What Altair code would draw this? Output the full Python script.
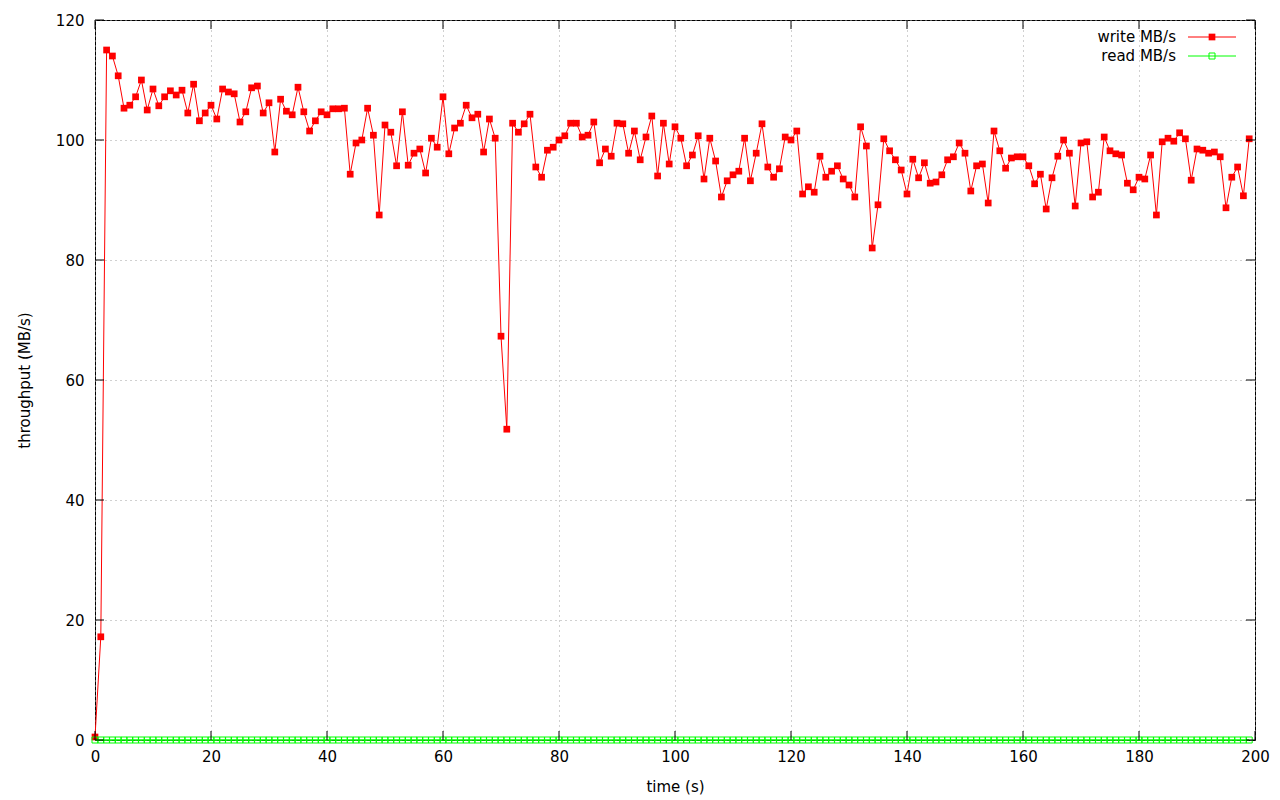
import altair as alt
import pandas as pd

time_s = list(range(200))

write_mbs = [
    0.5, 17.2, 115.0, 114.0, 110.7, 105.3, 105.8, 107.2, 110.0, 105.0,
    108.5, 105.7, 107.2, 108.2, 107.5, 108.3, 104.5, 109.3, 103.2, 104.5,
    105.8, 103.5, 108.5, 108.0, 107.7, 103.0, 104.7, 108.7, 109.0, 104.5,
    106.2, 98.0, 106.8, 104.8, 104.2, 108.8, 104.7, 101.5, 103.2, 104.7,
    104.2, 105.2, 105.2, 105.3, 94.3, 99.5, 100.0, 105.3, 100.8, 87.5,
    102.5, 101.3, 95.7, 104.7, 95.8, 97.8, 98.5, 94.5, 100.3, 98.8,
    107.2, 97.7, 102.0, 102.8, 105.8, 103.7, 104.3, 98.0, 103.5, 100.3,
    67.3, 51.8, 102.8, 101.3, 102.7, 104.3, 95.5, 93.8, 98.3, 98.8,
    100.0, 100.7, 102.8, 102.8, 100.5, 100.8, 103.0, 96.2, 98.5, 97.3,
    102.8, 102.7, 97.8, 101.5, 96.7, 100.5, 104.0, 94.0, 102.8, 96.0,
    102.2, 100.3, 95.7, 97.5, 100.7, 93.5, 100.3, 96.5, 90.5, 93.2,
    94.2, 94.8, 100.3, 93.2, 97.8, 102.7, 95.5, 93.8, 95.2, 100.5,
    100.0, 101.5, 91.0, 92.2, 91.3, 97.3, 93.8, 94.8, 95.7, 93.5,
    92.5, 90.5, 102.2, 99.0, 82.0, 89.2, 100.2, 98.2, 96.7, 95.0,
    91.0, 96.8, 93.7, 96.2, 92.8, 93.0, 94.2, 96.7, 97.2, 99.5,
    97.8, 91.5, 95.7, 96.0, 89.5, 101.5, 98.2, 95.3, 97.0, 97.2,
    97.2, 95.7, 92.7, 94.3, 88.5, 93.7, 97.3, 100.0, 97.8, 89.0,
    99.5, 99.7, 90.5, 91.3, 100.5, 98.2, 97.7, 97.5, 92.8, 91.7,
    93.8, 93.5, 97.5, 87.5, 99.7, 100.3, 99.8, 101.2, 100.2, 93.3,
    98.5, 98.3, 97.8, 98.0, 97.2, 88.7, 93.8, 95.5, 90.7, 100.2,
]

read_mbs = [0.0] * 200

x_ticks = [0, 20, 40, 60, 80, 100, 120, 140, 160, 180, 200]
y_ticks = [0, 20, 40, 60, 80, 100, 120]

legend_labels = ["write MB/s", "read MB/s"]
legend_colors = ["#ff0000", "#00ff00"]

W, H = 1160, 720
FONT = "DejaVu Sans"
FS = 15

df = pd.DataFrame({"t": time_s, "write": write_mbs, "read": read_mbs})

xscale = alt.Scale(domain=[0, 200], nice=False, zero=False)
yscale = alt.Scale(domain=[0, 120], nice=False)

x_axis = alt.Axis(values=x_ticks, title="time (s)", grid=True, gridColor="#a0a0a0",
                  gridDash=[1, 4], gridWidth=1, ticks=False, domain=False, labelFlush=False,
                  labelPadding=9, titlePadding=15, labelFontSize=FS, titleFontSize=FS,
                  labelFont=FONT, titleFont=FONT, titleFontWeight="normal",
                  labelColor="#000000", titleColor="#000000")
y_axis = alt.Axis(values=y_ticks, title="throughput (MB/s)", grid=True, gridColor="#a0a0a0",
                  gridDash=[1, 4], gridWidth=1, ticks=False, domain=False, labelFlush=False,
                  labelPadding=11, titlePadding=23, labelFontSize=FS, titleFontSize=FS,
                  labelFont=FONT, titleFont=FONT, titleFontWeight="normal",
                  labelColor="#000000", titleColor="#000000")

base = alt.Chart(df)

write_line = base.mark_line(color="#ff0000", strokeWidth=1).encode(
    x=alt.X("t:Q", scale=xscale, axis=x_axis),
    y=alt.Y("write:Q", scale=yscale, axis=y_axis),
)
write_pts = base.mark_point(shape="square", filled=True, color="#ff0000", size=45, opacity=1).encode(
    x=alt.X("t:Q", scale=xscale),
    y=alt.Y("write:Q", scale=yscale),
)
read_line = base.mark_line(color="#00ff00", strokeWidth=1.5).encode(
    x=alt.X("t:Q", scale=xscale),
    y=alt.Y("read:Q", scale=yscale),
)
read_pts = base.mark_point(shape="square", filled=False, color="#00ff00", size=36,
                           strokeWidth=1, opacity=1).encode(
    x=alt.X("t:Q", scale=xscale),
    y=alt.Y("read:Q", scale=yscale),
)

xt = pd.DataFrame({"v": x_ticks})
yt = pd.DataFrame({"v": y_ticks})
xtick_bottom = alt.Chart(xt).mark_rule(color="black", strokeWidth=1).encode(
    x=alt.X("v:Q", scale=xscale), y=alt.value(H), y2=alt.value(H - 9))
xtick_top = alt.Chart(xt).mark_rule(color="black", strokeWidth=1).encode(
    x=alt.X("v:Q", scale=xscale), y=alt.value(0), y2=alt.value(9))
ytick_left = alt.Chart(yt).mark_rule(color="black", strokeWidth=1).encode(
    y=alt.Y("v:Q", scale=yscale), x=alt.value(0), x2=alt.value(9))
ytick_right = alt.Chart(yt).mark_rule(color="black", strokeWidth=1).encode(
    y=alt.Y("v:Q", scale=yscale), x=alt.value(W), x2=alt.value(W - 9))

# manual legend (gnuplot style: label left, sample right)
leg1 = pd.DataFrame({"label": [legend_labels[0]]})
leg2 = pd.DataFrame({"label": [legend_labels[1]]})
ly1, ly2 = 17, 36
lx_text, lx0, lx1, lxp = 1081, 1093, 1141, 1117

legend_layers = []
for ldf, ly, col, filled in [(leg1, ly1, legend_colors[0], True), (leg2, ly2, legend_colors[1], False)]:
    legend_layers.append(alt.Chart(ldf).mark_text(align="right", baseline="middle", font=FONT,
                                                  fontSize=FS, color="black").encode(
        text="label:N", x=alt.value(lx_text), y=alt.value(ly)))
    legend_layers.append(alt.Chart(ldf).mark_rule(color=col, strokeWidth=1).encode(
        x=alt.value(lx0), x2=alt.value(lx1), y=alt.value(ly)))
    legend_layers.append(alt.Chart(ldf).mark_point(shape="square", filled=filled, color=col,
                                                   size=45 if filled else 36, opacity=1,
                                                   strokeWidth=1).encode(
        x=alt.value(lxp), y=alt.value(ly)))

chart = alt.layer(
    write_line, write_pts, read_line, read_pts,
    xtick_bottom, xtick_top, ytick_left, ytick_right,
    *legend_layers,
).properties(
    width=W, height=H,
    autosize=alt.AutoSizeParams(type="none"),
    padding={"left": 87, "top": 12, "right": 17, "bottom": 55},
    background="white",
).configure_view(
    stroke="black", strokeWidth=1,
)

chart.save("out.html", embed_options={"renderer": "svg", "actions": False})
